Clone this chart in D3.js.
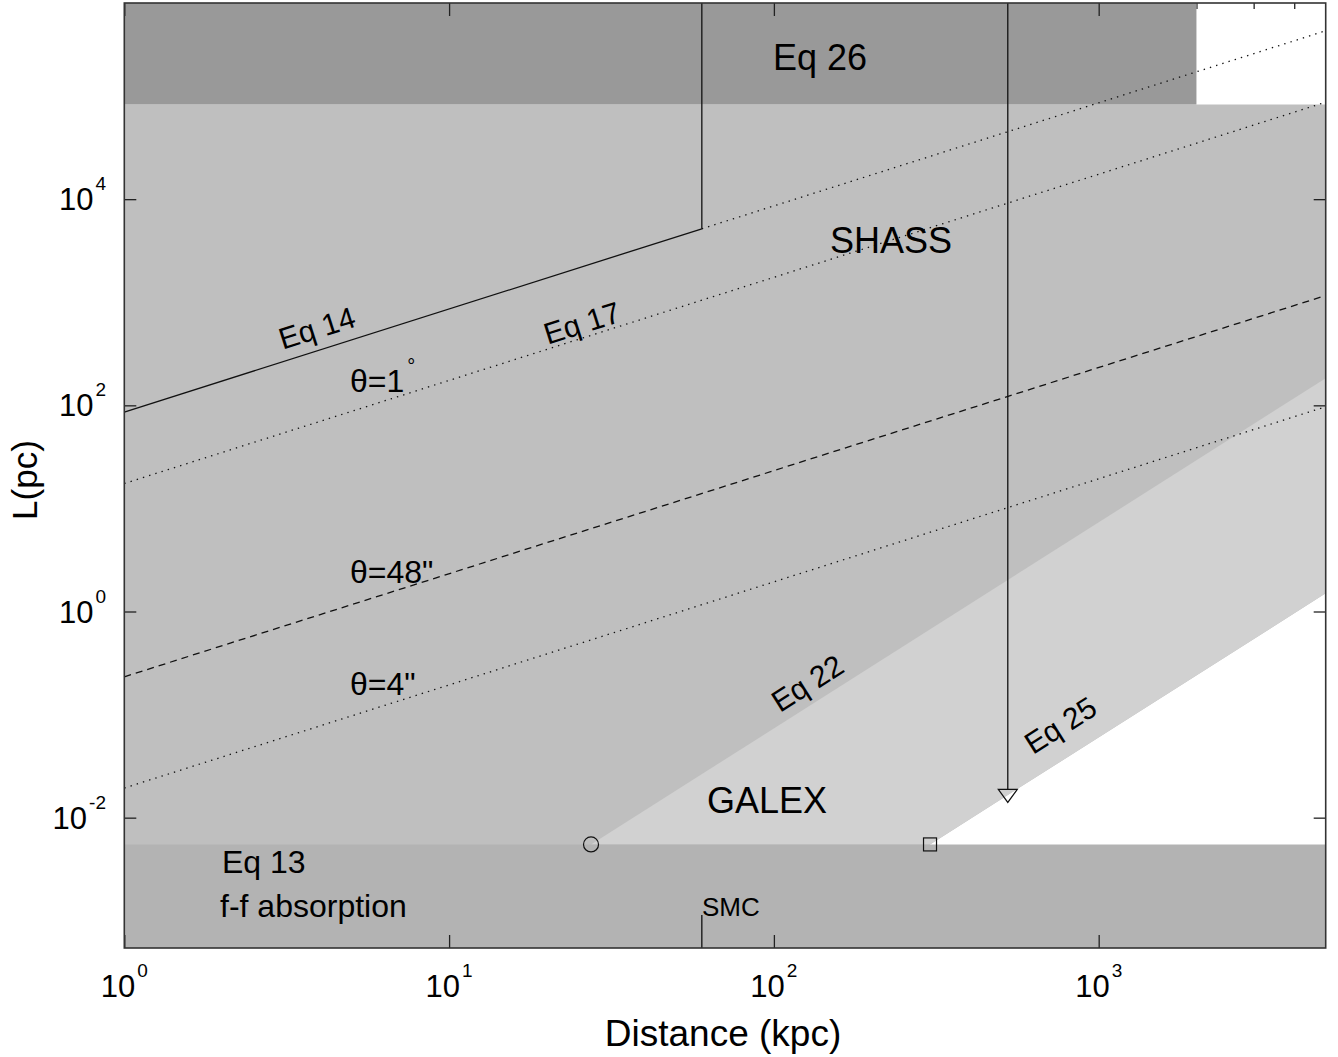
<!DOCTYPE html>
<html><head><meta charset="utf-8">
<script src="https://cdn.jsdelivr.net/npm/d3@7"></script>
<style>
body{margin:0;background:#fff}
text{font-family:"Liberation Sans",Arial,Helvetica,sans-serif;fill:#000}
</style>
</head><body>
<svg id="c" width="1338" height="1057"></svg>
<script>
// ---------------- data ----------------
const xDomain = [1, 5000];            // Distance (kpc)
const yDomain = [5.44e-4, 8.0e5];     // L (pc)
const xTicks = [1, 10, 100, 1000];
const xTickExp = ["0", "1", "2", "3"];
const yTicks = [1e-2, 1, 1e2, 1e4];
const yTickExp = ["-2", "0", "2", "4"];
const xMinorTicks = [2,3,4,5,6,7,8,9,20,30,40,50,60,70,80,90,200,300,400,500,600,700,800,900,2000,3000,4000];

// region limits
const eq13L = 5.5e-3;          // f-f absorption lower limit
const eq26L = 8.3e4;           // upper limit
const eq26Dmax = 2000;
const eq22D = [27.35, 5000], eq22L = [5.5e-3, 183];
const eq25D = [302.5, 5000], eq25L = [5.5e-3, 1.50];

// lines
const eq14D = [1, 60],     eq14L = [86, 5160];
const eq14extD = [60, 5000], eq14extL = [5160, 430000];
const smcD = 60;
const smcTickL = 1.14e-3;
const theta1D = [1, 5000],  theta1L = [17.45, 87270];
const theta48D = [1, 5000], theta48L = [0.2327, 1163];
const theta4D = [1, 5000],  theta4L = [0.01939, 96.96];
const limitD = 525, limitL = 0.0166;

// markers
const circleD = 27.35, circleL = 5.5e-3;
const squareD = 302.5, squareL = 5.5e-3;

// ---------------- drawing ----------------
const X0 = 124.3, X1 = 1325.7, Y0 = 3, Y1 = 948;
const svg = d3.select("#c");
const x = d3.scaleLog().domain(xDomain).range([X0, X1]);
const y = d3.scaleLog().domain(yDomain).range([Y1, Y0]);
const [Ymin, Ymax] = yDomain, [Xmin, Xmax] = xDomain;

svg.append("defs").append("clipPath").attr("id","clip")
  .append("rect").attr("x",X0).attr("y",Y0).attr("width",X1-X0).attr("height",Y1-Y0);

// minor ticks (below patches)
function styleAxis(g){ g.select(".domain").remove(); g.selectAll("line").attr("stroke","#222").attr("stroke-width",1.3); }
svg.append("g").attr("transform",`translate(0,${Y0})`)
  .call(d3.axisTop(x).tickValues(xMinorTicks).tickSize(-6).tickFormat("")).call(styleAxis);
svg.append("g").attr("transform",`translate(0,${Y1})`)
  .call(d3.axisBottom(x).tickValues(xMinorTicks).tickSize(-6).tickFormat("")).call(styleAxis);

const area = svg.append("g").attr("clip-path","url(#clip)");
const line = d3.line().x(d=>x(d[0])).y(d=>y(d[1]));

// SHASS region
area.append("path").attr("fill","#bfbfbf").attr("d", line([
  [Xmin,Ymin],[Xmin,eq26L],[Xmax,eq26L],[eq25D[1],eq25L[1]],[eq25D[0],eq25L[0]],[eq25D[0],Ymin]
]) + "Z");
// GALEX region
area.append("path").attr("fill","#d1d1d1").attr("d", line([
  [eq22D[0],eq22L[0]],[eq22D[1],eq22L[1]],[eq25D[1],eq25L[1]],[eq25D[0],eq25L[0]]
]) + "Z");
// Eq 26 band
area.append("path").attr("fill","#999999").attr("d", line([
  [Xmin,eq26L],[eq26Dmax,eq26L],[eq26Dmax,Ymax],[Xmin,Ymax]
]) + "Z");
// Eq 13 band
area.append("path").attr("fill","#b3b3b3").attr("d", line([
  [Xmin,Ymin],[Xmax,Ymin],[Xmax,eq13L],[Xmin,eq13L]
]) + "Z");

const zip = (a,b)=>a.map((v,i)=>[v,b[i]]);
const lw = 1.3, lc = "#111";
function drawLine(pts, dash){
  area.append("path").attr("d", line(pts)).attr("fill","none")
    .attr("stroke",lc).attr("stroke-width",lw).attr("stroke-dasharray",dash||null);
}
drawLine(zip(eq14D,eq14L));
drawLine([[smcD,eq14L[1]],[smcD,Ymax]]);
drawLine(zip(eq14extD,eq14extL), "1.4,5.1");
drawLine(zip(theta1D,theta1L), "1.4,5.1");
drawLine(zip(theta48D,theta48L), "7,5");
drawLine(zip(theta4D,theta4L), "1.4,5.1");
drawLine([[smcD,Ymin],[smcD,smcTickL]]);

// limit line + triangle
const tx = x(limitD), ty = y(limitL);
area.append("line").attr("x1",tx).attr("x2",tx).attr("y1",Y0).attr("y2",ty-5.5)
  .attr("stroke",lc).attr("stroke-width",lw);
area.append("path").attr("d",`M${tx-9.5},${ty-5.5}L${tx+9.5},${ty-5.5}L${tx},${ty+7.5}Z`)
  .attr("fill","none").attr("stroke",lc).attr("stroke-width",1.2);
// circle, square
area.append("circle").attr("cx",x(circleD)).attr("cy",y(circleL)).attr("r",7.5)
  .attr("fill","none").attr("stroke",lc).attr("stroke-width",1.2);
area.append("rect").attr("x",x(squareD)-6.5).attr("y",y(squareL)-6.5).attr("width",13).attr("height",13)
  .attr("fill","none").attr("stroke",lc).attr("stroke-width",1.2);

// text labels
function label(t, px, py, size, anchor, rot){
  const el = svg.append("text").attr("font-size",size).attr("text-anchor",anchor||"start")
    .attr("transform",`translate(${px},${py})` + (rot?` rotate(${rot})`:""));
  el.text(t);
  return el;
}
const ang1 = -Math.atan((y(1)-y(10))/(x(10)-x(1)))*180/Math.PI;
const ang2 = -Math.atan((y(1)-y(100))/(x(10)-x(1)))*180/Math.PI;
label("Eq 26", 820, 70, 36, "middle");
label("SHASS", 891, 253, 36, "middle");
label("GALEX", 767, 813, 36, "middle");
label("Eq 13", 222, 873, 32);
label("f-f absorption", 220, 917, 32);
label("SMC", 702, 916, 26);
const t1 = label("θ=1", 350, 392, 32);
t1.append("tspan").attr("font-size",20).attr("dx",3).attr("dy",-19).text("°");
label("θ=48\"", 350, 583, 32);
label("θ=4\"", 350, 695, 32);
label("Eq 14", 320, 338, 30, "middle", ang1);
label("Eq 17", 585, 333, 30, "middle", ang1);
label("Eq 22", 813, 692, 30, "middle", ang2);
label("Eq 25", 1066, 734, 30, "middle", ang2);

// major ticks (over patches)
svg.append("g").attr("transform",`translate(0,${Y1})`)
  .call(d3.axisBottom(x).tickValues(xTicks).tickSize(-13).tickFormat("")).call(styleAxis);
svg.append("g").attr("transform",`translate(0,${Y0})`)
  .call(d3.axisTop(x).tickValues(xTicks).tickSize(-13).tickFormat("")).call(styleAxis);
svg.append("g").attr("transform",`translate(${X0},0)`)
  .call(d3.axisLeft(y).tickValues(yTicks).tickSize(-12).tickFormat("")).call(styleAxis);
svg.append("g").attr("transform",`translate(${X1},0)`)
  .call(d3.axisRight(y).tickValues(yTicks).tickSize(-12).tickFormat("")).call(styleAxis);

// frame
svg.append("rect").attr("x",X0).attr("y",Y0).attr("width",X1-X0).attr("height",Y1-Y0)
  .attr("fill","none").attr("stroke","#333").attr("stroke-width",1.6);

// tick labels
xTicks.forEach((v,i)=>{
  const t = svg.append("text").attr("x",x(v)).attr("y",997).attr("font-size",31).attr("text-anchor","middle");
  t.append("tspan").text("10");
  t.append("tspan").attr("font-size",19).attr("dx",2).attr("dy",-20).text(xTickExp[i]);
});
yTicks.forEach((v,i)=>{
  const t = svg.append("text").attr("x",106).attr("y",y(v)+11).attr("font-size",31).attr("text-anchor","end");
  t.append("tspan").text("10");
  t.append("tspan").attr("font-size",19).attr("dx",2).attr("dy",-20).text(yTickExp[i]);
});

// axis titles
svg.append("text").attr("x",723).attr("y",1046).attr("font-size",37).attr("text-anchor","middle").text("Distance (kpc)");
svg.append("text").attr("transform","translate(37,480) rotate(-90)").attr("font-size",35)
  .attr("text-anchor","middle").text("L(pc)");
</script>
</body></html>
